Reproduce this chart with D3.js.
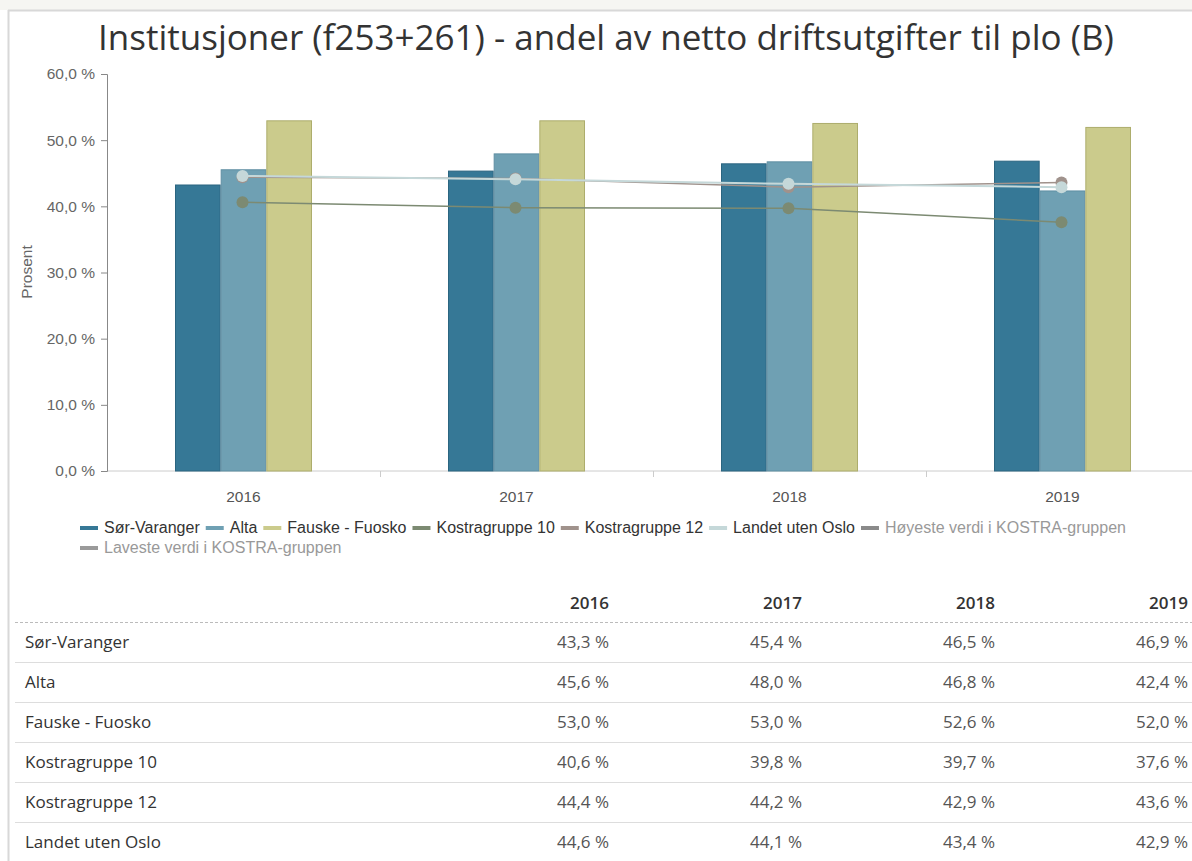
<!DOCTYPE html>
<html>
<head>
<meta charset="utf-8">
<script src="https://cdn.jsdelivr.net/npm/d3@7"></script>
<style>
  body { margin: 0; background: #fff; }
  svg { display: block; }
</style>
</head>
<body>
<div id="chart"></div>
<script>
// data
let years = ["2016", "2017", "2018", "2019"];
let barSeries = ["Sør-Varanger", "Alta", "Fauske - Fuosko"];
let lineSeries = ["Kostragruppe 10", "Kostragruppe 12", "Landet uten Oslo"];
let sorVaranger = [43.3, 45.4, 46.5, 46.9];
let alta = [45.6, 48.0, 46.8, 42.4];
let fauske = [53.0, 53.0, 52.6, 52.0];
let kostra10 = [40.6, 39.8, 39.7, 37.6];
let kostra12 = [44.4, 44.2, 42.9, 43.6];
let landet = [44.6, 44.1, 43.4, 42.9];
let yTicks = [0, 10, 20, 30, 40, 50, 60];
let legendNames = ["Sør-Varanger", "Alta", "Fauske - Fuosko", "Kostragruppe 10", "Kostragruppe 12",
                   "Landet uten Oslo", "Høyeste verdi i KOSTRA-gruppen", "Laveste verdi i KOSTRA-gruppen"];

let barColors = ["#367896", "#6fa0b3", "#cbcb8c"];
let barStroke = ["#2b6580", "#5f8fa2", "#adad6c"];
let lineColors = ["#7c8a72", "#a0928c", "#c5d8d9"];
let legendColors = barColors.concat(lineColors, ["#8a8a8a", "#9a9a9a"]);

let width = 1192, height = 861;
let fmt = v => d3.format(".1f")(v).replace(".", ",") + " %";
let hcFont = "'Liberation Sans', Arial, sans-serif";

let svg = d3.select("#chart").append("svg")
    .attr("width", width)
    .attr("height", height);

// page frame
svg.append("rect").attr("x", 0).attr("y", 0).attr("width", width).attr("height", 10).attr("fill", "#f6f6f2");
svg.append("line").attr("x1", 8).attr("x2", width).attr("y1", 10.5).attr("y2", 10.5)
   .attr("stroke", "#d8d8d8").attr("stroke-width", 2);
svg.append("line").attr("x1", 8.5).attr("x2", 8.5).attr("y1", 10).attr("y2", height)
   .attr("stroke", "#d8d8d8").attr("stroke-width", 2);

svg.append("text")
   .attr("x", 606).attr("y", 50)
   .attr("text-anchor", "middle")
   .style("font-family", "'Open Sans', sans-serif")
   .style("font-size", "35px")
   .style("fill", "#333")
   .text("Institusjoner (f253+261) - andel av netto driftsutgifter til plo (B)");

let margin = {left: 107, top: 74, bottom: 471};
let x0 = d3.scaleBand().domain(years).range([margin.left, margin.left + 4 * 273]);
let x1 = d3.scaleBand().domain(barSeries).range([0, 137]);
let y = d3.scaleLinear().domain([0, 60]).range([margin.bottom, margin.top]);

// x axis
let xAxis = svg.append("g").attr("transform", "translate(0," + margin.bottom + ")");
xAxis.append("line").attr("x1", margin.left).attr("x2", width).attr("stroke", "#ccc");
xAxis.selectAll(".tk").data(years.slice(1)).enter().append("line")
   .attr("x1", d => x0(d) + 0.5).attr("x2", d => x0(d) + 0.5)
   .attr("y1", 0).attr("y2", 6).attr("stroke", "#ccc");
xAxis.selectAll(".lbl").data(years).enter().append("text")
   .attr("x", d => x0(d) + x0.bandwidth() / 2)
   .attr("y", 31)
   .attr("text-anchor", "middle")
   .style("font-family", hcFont)
   .style("font-size", "15.5px")
   .style("fill", "#555")
   .text(d => d);

// y axis
let yAxis = svg.append("g")
   .attr("transform", "translate(" + margin.left + ",0)")
   .call(d3.axisLeft(y).tickValues(yTicks).tickSize(6).tickFormat(fmt));
yAxis.select(".domain").attr("stroke", "#888");
yAxis.selectAll(".tick line").attr("stroke", "#888");
yAxis.selectAll(".tick text")
   .style("font-family", hcFont)
   .style("font-size", "15.5px")
   .style("fill", "#666")
   .attr("x", -12);

svg.append("text")
   .attr("transform", "translate(32,272) rotate(-90)")
   .attr("text-anchor", "middle")
   .style("font-family", hcFont)
   .style("font-size", "15.5px")
   .style("fill", "#666")
   .text("Prosent");

// bars
let barData = [sorVaranger, alta, fauske];
barSeries.forEach((s, si) => {
  svg.append("g").selectAll("rect")
     .data(barData[si])
     .enter().append("rect")
     .attr("x", (d, i) => x0(years[i]) + (x0.bandwidth() - 137) / 2 + x1(s) + 0.5)
     .attr("y", d => y(d) + 0.5)
     .attr("width", x1.bandwidth() - 1)
     .attr("height", d => margin.bottom - y(d) - 0.5)
     .attr("fill", barColors[si])
     .attr("stroke", barStroke[si])
     .attr("stroke-width", 1);
});

// lines
let lineData = [kostra10, kostra12, landet];
let cx = i => x0(years[i]) + x0.bandwidth() / 2 - 1;
lineSeries.forEach((s, si) => {
  let line = d3.line().x((d, i) => cx(i)).y(d => y(d));
  svg.append("path")
     .datum(lineData[si])
     .attr("d", line)
     .attr("fill", "none")
     .attr("stroke", lineColors[si])
     .attr("stroke-width", si == 2 ? 2 : 1.5);
  svg.append("g").selectAll("circle")
     .data(lineData[si])
     .enter().append("circle")
     .attr("cx", (d, i) => cx(i))
     .attr("cy", d => y(d))
     .attr("r", 6)
     .attr("fill", lineColors[si]);
});

// legend
let legend = svg.append("g");
let lx = 80, ly = 528;
legendNames.forEach((name, i) => {
  if (i == 7) { lx = 80; ly = 548; }
  legend.append("line")
     .attr("x1", lx).attr("x2", lx + 18)
     .attr("y1", ly).attr("y2", ly)
     .attr("stroke", legendColors[i]).attr("stroke-width", 4);
  let t = legend.append("text")
     .attr("x", lx + 24).attr("y", ly + 5)
     .style("font-family", hcFont)
     .style("font-size", "16px")
     .style("fill", i >= 6 ? "#999" : "#333")
     .text(name);
  lx += 24 + t.node().getComputedTextLength() + 6;
});

// table
let tableRows = [
  {name: "Sør-Varanger", values: sorVaranger},
  {name: "Alta", values: alta},
  {name: "Fauske - Fuosko", values: fauske},
  {name: "Kostragruppe 10", values: kostra10},
  {name: "Kostragruppe 12", values: kostra12},
  {name: "Landet uten Oslo", values: landet}
];
let colX = d3.scalePoint().domain(years).range([609, 1188]);
let rowY = d3.scaleBand().domain(tableRows.map(d => d.name)).range([622, 862]);

let table = svg.append("g")
   .style("font-family", "'Open Sans', sans-serif")
   .style("font-size", "17px");

table.selectAll(".hd").data(years).enter().append("text")
   .attr("x", d => colX(d)).attr("y", 609)
   .attr("text-anchor", "end")
   .style("font-weight", 600)
   .style("fill", "#333")
   .text(d => d);

table.append("line")
   .attr("x1", 15).attr("x2", width).attr("y1", 622.5).attr("y2", 622.5)
   .attr("stroke", "#bbb").attr("stroke-dasharray", "3,2");

table.selectAll(".sep").data(tableRows.slice(1)).enter().append("line")
   .attr("x1", 15).attr("x2", width)
   .attr("y1", d => rowY(d.name) + 0.5).attr("y2", d => rowY(d.name) + 0.5)
   .attr("stroke", "#ddd");

let rows = table.selectAll(".row").data(tableRows).enter().append("g")
   .attr("transform", d => "translate(0," + (rowY(d.name) + rowY.bandwidth() / 2 + 6) + ")");

rows.append("text")
   .attr("x", 25)
   .style("fill", "#333")
   .text(d => d.name);

rows.selectAll(".val").data(d => d.values).enter().append("text")
   .attr("x", (d, i) => colX(years[i]))
   .attr("text-anchor", "end")
   .style("fill", "#555")
   .text(d => fmt(d));
</script>
</body>
</html>
